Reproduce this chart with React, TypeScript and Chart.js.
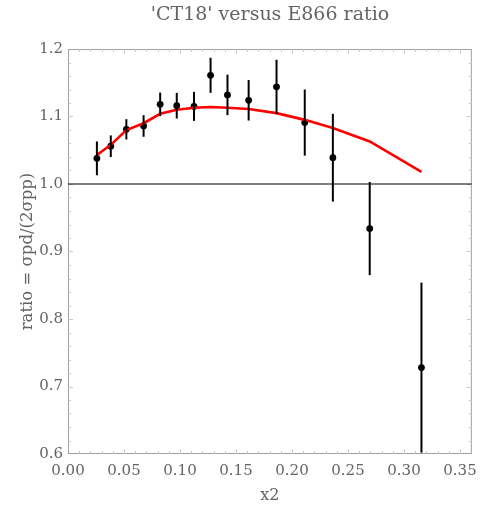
import React, { useEffect, useRef } from "react";
import { Chart, registerables } from "chart.js";
Chart.register(...registerables);

const chartTitle = "'CT18' versus E866 ratio";
const xTitle = "x2";
const yTitle = "ratio = σpd/(2σpp)";

const x2 = [0.0258, 0.0382, 0.0521, 0.0675, 0.0823, 0.0971, 0.1125, 0.1273, 0.1424, 0.1613, 0.1862, 0.2114, 0.2365, 0.2694, 0.3156];
const ratio = [1.038, 1.056, 1.081, 1.086, 1.118, 1.116, 1.115, 1.161, 1.132, 1.124, 1.144, 1.091, 1.039, 0.934, 0.728];
const ratioErr = [0.025, 0.016, 0.015, 0.016, 0.0175, 0.019, 0.0215, 0.026, 0.03, 0.03, 0.04, 0.049, 0.065, 0.069, 0.126];
const theory = [1.043, 1.058, 1.08, 1.09, 1.104, 1.11, 1.113, 1.114, 1.113, 1.111, 1.105, 1.095, 1.083, 1.063, 1.018];

const xTicks = [0, 0.05, 0.1, 0.15, 0.2, 0.25, 0.3, 0.35];
const yTicks = [0.6, 0.7, 0.8, 0.9, 1.0, 1.1, 1.2];
const xRange = [0, 0.3606];
const yRange = [0.6, 1.2];
const unityValue = 1.0;

const TEXT = "#646464";
const FRAME = "#a0a0a0";
const FONT = "'DejaVu Serif', serif";

export default function App() {
  const ref = useRef<HTMLCanvasElement | null>(null);

  useEffect(() => {
    document.body.style.margin = "0";
    const canvas = ref.current;
    if (!canvas) return;

    const titlePlugin = {
      id: "centeredTitle",
      afterDraw(chart: any) {
        const { ctx, chartArea: a } = chart;
        ctx.save();
        ctx.fillStyle = TEXT;
        ctx.font = `19px ${FONT}`;
        ctx.textAlign = "center";
        ctx.textBaseline = "middle";
        ctx.fillText(chartTitle, (a.left + a.right) / 2, 15);
        ctx.restore();
      },
    };

    const framePlugin = {
      id: "frame",
      beforeDatasetsDraw(chart: any) {
        const { ctx, chartArea: a, scales } = chart;
        ctx.save();
        ctx.strokeStyle = FRAME;
        ctx.lineWidth = 1;
        ctx.strokeRect(a.left + 0.5, a.top + 0.5, a.right - a.left - 1, a.bottom - a.top - 1);
        ctx.strokeStyle = "#c8c8c8";
        for (let i = 1; i <= 36; i++) {
          const v = i / 100;
          const px = Math.round(scales.x.getPixelForValue(v)) + 0.5;
          if (px > a.right - 1) continue;
          const len = i % 5 === 0 ? 5 : 3;
          ctx.beginPath();
          ctx.moveTo(px, a.bottom);
          ctx.lineTo(px, a.bottom - len);
          ctx.moveTo(px, a.top);
          ctx.lineTo(px, a.top + len);
          ctx.stroke();
        }
        for (let i = 31; i < 60; i++) {
          const v = i / 50;
          const py = Math.round(scales.y.getPixelForValue(v)) + 0.5;
          const len = i % 5 === 0 ? 5 : 3;
          ctx.beginPath();
          ctx.moveTo(a.left, py);
          ctx.lineTo(a.left + len, py);
          ctx.moveTo(a.right, py);
          ctx.lineTo(a.right - len, py);
          ctx.stroke();
        }
        ctx.restore();
      },
    };

    const errorPlugin = {
      id: "errorBars",
      afterDatasetsDraw(chart: any) {
        const { ctx, scales } = chart;
        ctx.save();
        ctx.strokeStyle = "#000";
        ctx.lineWidth = 2;
        for (let i = 0; i < x2.length; i++) {
          const px = scales.x.getPixelForValue(x2[i]);
          const top = scales.y.getPixelForValue(ratio[i] + ratioErr[i]);
          const bot = scales.y.getPixelForValue(ratio[i] - ratioErr[i]);
          ctx.beginPath();
          ctx.moveTo(px, top);
          ctx.lineTo(px, bot);
          ctx.stroke();
        }
        ctx.restore();
      },
    };

    const chart = new Chart(canvas, {
      type: "scatter",
      data: {
        datasets: [
          {
            data: [
              { x: xRange[0], y: unityValue },
              { x: xRange[1], y: unityValue },
            ],
            showLine: true,
            borderColor: "#000",
            borderWidth: 1,
            pointRadius: 0,
          },
          {
            data: x2.map((x, i) => ({ x, y: theory[i] })),
            showLine: true,
            borderColor: "#ff0000",
            borderWidth: 2.6,
            pointRadius: 0,
            tension: 0,
          },
          {
            data: x2.map((x, i) => ({ x, y: ratio[i] })),
            showLine: false,
            pointRadius: 3.4,
            pointBackgroundColor: "#000",
            pointBorderWidth: 0,
            pointBorderColor: "#000",
          },
        ],
      },
      options: {
        animation: false,
        responsive: false,
        layout: { padding: { left: 0, right: 11, top: 49, bottom: 0 } },
        plugins: {
          legend: { display: false },
          tooltip: { enabled: false },
          title: { display: false },
        },
        scales: {
          x: {
            type: "linear",
            min: xRange[0],
            max: xRange[1],
            afterBuildTicks: (s: any) => {
              s.ticks = xTicks.map((v) => ({ value: v }));
            },
            afterFit: (s: any) => {
              s.height = 56;
            },
            grid: { display: false, drawTicks: false },
            border: { display: false },
            ticks: {
              color: TEXT,
              font: { family: FONT, size: 15 },
              padding: 8,
              maxRotation: 0,
              autoSkip: false,
              callback: (v: any) => Number(v).toFixed(2),
            },
            title: {
              display: true,
              text: xTitle,
              color: TEXT,
              font: { family: FONT, size: 16 },
              padding: { top: 0, bottom: 4.4 },
            },
          },
          y: {
            type: "linear",
            min: yRange[0],
            max: yRange[1],
            afterBuildTicks: (s: any) => {
              s.ticks = yTicks.map((v) => ({ value: v }));
            },
            afterFit: (s: any) => {
              s.width = 68;
            },
            grid: { display: false, drawTicks: false },
            border: { display: false },
            ticks: {
              color: TEXT,
              font: { family: FONT, size: 15 },
              padding: 5,
              autoSkip: false,
              callback: (v: any) => Number(v).toFixed(1),
            },
            title: {
              display: true,
              text: yTitle,
              color: TEXT,
              font: { family: FONT, size: 16.5 },
              padding: { top: 18, bottom: 0 },
            },
          },
        },
      },
      plugins: [framePlugin, errorPlugin, titlePlugin],
    } as any);

    return () => chart.destroy();
  }, []);

  return (
    <div style={{ width: 485, height: 510 }}>
      <canvas ref={ref} width={485} height={510} />
    </div>
  );
}
